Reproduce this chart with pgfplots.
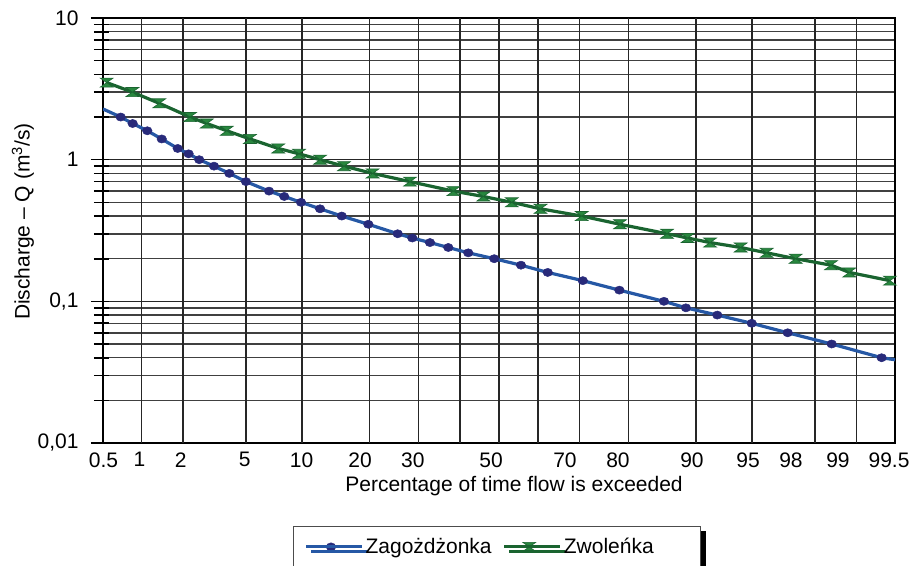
\documentclass[border=0pt]{standalone}
\usepackage{pgfplots}
\pgfplotsset{compat=1.18}
\usepackage{fontspec}
\setmainfont{Liberation Sans}
\usetikzlibrary{shadows}
\definecolor{blueline}{RGB}{38,88,165}
\definecolor{bluemark}{RGB}{40,42,122}
\definecolor{greenline}{RGB}{26,100,48}
\definecolor{greenmark}{RGB}{40,135,62}
\pgfdeclareplotmark{hourglass}{%
  \pgfpathmoveto{\pgfqpoint{-\pgfplotmarksize}{0.7\pgfplotmarksize}}%
  \pgfpathlineto{\pgfqpoint{\pgfplotmarksize}{0.7\pgfplotmarksize}}%
  \pgfpathlineto{\pgfqpoint{-\pgfplotmarksize}{-0.7\pgfplotmarksize}}%
  \pgfpathlineto{\pgfqpoint{\pgfplotmarksize}{-0.7\pgfplotmarksize}}%
  \pgfpathclose
  \pgfusepathqfillstroke}
\begin{document}
\begin{tikzpicture}
\useasboundingbox (0pt,-565pt) rectangle (913pt,0pt);
\begin{axis}[
  at={(103pt,-443pt)}, anchor=south west,
  scale only axis, width=792pt, height=425pt,
  xmin=-2.576, xmax=2.576,
  ymode=log, ymin=0.01, ymax=10,
  clip mode=individual,
  font=\fontsize{21}{25}\selectfont,
  tick label style={font=\fontsize{21}{25}\selectfont},
  label style={font=\fontsize{21}{25}\selectfont},
  axis line style={line width=2.2pt, black},
  xtick={-2.573,-2.339,-2.070,-1.654,-1.284,-0.904,-0.560,-0.052,0.429,0.774,1.255,1.620,1.899,2.205,2.537},
  xticklabels={0.5,1,2,5,10,20,\raisebox{4pt}{30},50,70,80,90,95,98,99,99.5},
  xtick style={draw=none},
  extra x ticks={-2.326,-2.054,-1.645,-1.282,-0.842,-0.524,-0.253,0,0.253,0.524,0.842,1.282,1.645,2.054,2.326},
  extra x tick labels={},
  extra x tick style={grid=major, tick style={draw=none}},
  ytick={0.01,0.1,1,10},
  yticklabels={{0,01},{0,1},{1},{10}},
  minor ytick={0.02,0.03,0.04,0.05,0.06,0.07,0.08,0.09,0.2,0.3,0.4,0.5,0.6,0.7,0.8,0.9,2,3,4,5,6,7,8,9},
  ymajorgrids, yminorgrids,
  ytick pos=left,
  tick align=center,
  major tick length=18pt, minor tick length=15pt,
  every major y tick/.append style={xshift=-3pt, line width=1.6pt, black},
  every minor y tick/.append style={xshift=-1.5pt, line width=1.6pt, black},
  major grid style={black!85, line width=1.6pt},
  minor grid style={black!75, line width=1.5pt},
  yticklabel style={anchor=east, xshift=-12pt},
  xticklabel style={anchor=north, yshift=3pt},
  xlabel={Percentage of time flow is exceeded},
  ylabel={Discharge – Q (m\textsuperscript{3}/s)},
  xlabel style={at={(axis description cs:0.519,-0.101)}, anchor=center},
  ylabel style={at={(axis description cs:-0.101,0.521)}, anchor=center},
  legend columns=2,
  legend image code/.code={\draw[#1,mark indices={2}] plot coordinates {(0pt,0pt) (25pt,0pt) (50pt,0pt)}; \path (0pt,0pt) -- (56pt,0pt);},
  legend style={at={(axis description cs:0.2399,-0.1953)}, anchor=north west,
    draw=black!70, line width=0.8pt, fill=white,
    font=\fontsize{21}{25}\selectfont,
    inner xsep=11pt, inner ysep=10pt,
    /tikz/every even column/.append style={column sep=9pt},
    drop shadow={shadow xshift=5pt, shadow yshift=-5pt, fill=black, opacity=1}},
]
\addplot[blueline, line width=3.2pt, mark=*, mark size=4.8pt,
  mark options={fill=bluemark, draw=bluemark, line width=0.5pt, yscale=0.85},
  mark indices={2,...,34}] table {
x y
-2.576 2.28
-2.461 2.0
-2.383 1.8
-2.288 1.6
-2.194 1.4
-2.090 1.2
-2.019 1.1
-1.950 1.0
-1.854 0.9
-1.754 0.8
-1.646 0.7
-1.496 0.6
-1.397 0.55
-1.288 0.5
-1.164 0.45
-1.023 0.4
-0.850 0.35
-0.659 0.3
-0.564 0.28
-0.449 0.26
-0.330 0.24
-0.200 0.22
-0.031 0.2
0.143 0.18
0.317 0.16
0.545 0.14
0.783 0.12
1.073 0.1
1.216 0.09
1.420 0.08
1.644 0.07
1.878 0.06
2.164 0.05
2.489 0.04
2.576 0.0387
};
\addlegendentry{Zagożdżonka}
\addplot[greenline, line width=3.2pt, mark=hourglass, mark size=6.5pt,
  mark options={fill=greenmark, draw=greenline, line width=0.6pt}] table {
x y
-2.552 3.5
-2.385 3.0
-2.210 2.5
-2.010 2.0
-1.901 1.8
-1.771 1.6
-1.620 1.4
-1.436 1.2
-1.301 1.1
-1.164 1.0
-1.008 0.9
-0.822 0.8
-0.579 0.7
-0.297 0.6
-0.102 0.55
0.083 0.5
0.270 0.45
0.538 0.4
0.787 0.35
1.093 0.3
1.227 0.28
1.373 0.26
1.572 0.24
1.741 0.22
1.930 0.2
2.160 0.18
2.279 0.16
2.543 0.14
};
\addlegendentry{\makebox[124pt][l]{Zwoleńka}}
\end{axis}
\end{tikzpicture}
\end{document}
